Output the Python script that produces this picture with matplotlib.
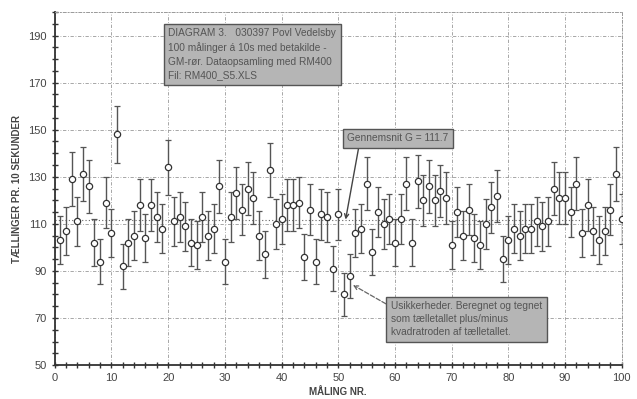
import matplotlib
matplotlib.use("Agg")
import matplotlib.pyplot as plt
from matplotlib.ticker import MultipleLocator
import numpy as np

plt.rcParams['font.family'] = ['Liberation Sans', 'DejaVu Sans']

maaling = np.arange(1, 101)
counts = [103, 107, 129, 111, 131, 126, 102, 94, 119, 106,
          148, 92, 102, 105, 118, 104, 118, 113, 108, 134,
          111, 113, 109, 102, 101, 113, 105, 108, 126, 94,
          113, 123, 116, 125, 121, 105, 97, 133, 110, 112,
          118, 118, 119, 96, 116, 94, 114, 113, 91, 114,
          80, 88, 106, 108, 127, 98, 115, 110, 112, 102,
          112, 127, 102, 128, 120, 126, 120, 124, 121, 101,
          115, 105, 116, 104, 101, 110, 117, 122, 95, 103,
          108, 105, 108, 108, 111, 109, 111, 125, 121, 121,
          115, 127, 106, 118, 107, 103, 107, 116, 131, 112]
mean_label = "Gennemsnit G = 111.7"

counts = np.array(counts, dtype=float)
# uncertainty = square root of the count (as stated in the chart)
err = np.sqrt(counts)

fig = plt.figure(figsize=(6.37, 3.99), dpi=100)
ax = fig.add_axes([0.086, 0.085, 0.890, 0.885])

ax.errorbar(maaling, counts, yerr=err, fmt='o', color='#444444', ecolor='#555555',
            elinewidth=1.0, capsize=2.5, capthick=1.0, markersize=4.5,
            markerfacecolor='white', markeredgecolor='#333333', markeredgewidth=0.9,
            zorder=3)

mean_val = counts.mean()
ax.axhline(mean_val, color='#666666', lw=0.8, ls=(0, (1, 2)), zorder=1)

ax.set_xlim(0, 100)
ax.set_ylim(50, 200)
ax.xaxis.set_major_locator(MultipleLocator(10))
ax.xaxis.set_minor_locator(MultipleLocator(2))
ax.yaxis.set_minor_locator(MultipleLocator(5))
ax.set_yticks(np.arange(50, 200, 20))
ax.tick_params(which='both', direction='inout', colors='#333333', labelsize=8,
               labelcolor='#444444')
ax.tick_params(which='major', length=5, width=1)
ax.tick_params(which='minor', length=4, width=1)
ax.grid(True, which='major', color='#999999', lw=0.6, ls=(0, (4, 2, 1, 2)))

for side in ['top', 'right']:
    ax.spines[side].set_color('#999999')
    ax.spines[side].set_linestyle((0, (3, 2, 1, 2)))
    ax.spines[side].set_linewidth(0.7)
for side in ['left', 'bottom']:
    ax.spines[side].set_color('#333333')
    ax.spines[side].set_linewidth(1.3)

ax.set_xlabel('MÅLING NR.', fontsize=7, fontweight='bold', color='#444444')
ax.xaxis.set_label_coords(0.5, -0.077)
ax.xaxis.label.set_va('center')
ax.set_ylabel('TÆLLINGER PR. 10 SEKUNDER', fontsize=7, fontweight='bold', color='#444444',
              labelpad=4)

box = dict(boxstyle='square,pad=0.45', facecolor='#b5b5b5', edgecolor='#555555', lw=1.0)

ax.text(20.0, 193.0, "DIAGRAM 3.   030397 Povl Vedelsby\n"
        "100 målinger á 10s med betakilde -\n"
        "GM-rør. Dataopsamling med RM400\n"
        "Fil: RM400_S5.XLS",
        fontsize=7.3, color='#555555', va='top', ha='left', linespacing=1.45,
        bbox=box, zorder=5)

ax.annotate(mean_label, xy=(51.3, mean_val), xytext=(51.6, 146.4),
            fontsize=7.3, color='#555555', va='center', ha='left', bbox=box, zorder=5,
            arrowprops=dict(arrowstyle='->', color='#444444', lw=1.0,
                            shrinkA=0, shrinkB=0, relpos=(0.12, 0.0)))

ax.annotate("Usikkerheder. Beregnet og tegnet\n"
            "som tælletallet plus/minus\n"
            "kvadratroden af tælletallet.",
            xy=(52.6, 84), xytext=(59.3, 69.5),
            fontsize=7.3, color='#555555', va='center', ha='left', linespacing=1.35,
            bbox=box, zorder=5,
            arrowprops=dict(arrowstyle='->', color='#666666', lw=0.9, ls='--',
                            shrinkA=0, shrinkB=0, relpos=(0.0, 0.85)))

fig.savefig('out.png', dpi=100, facecolor='white')
